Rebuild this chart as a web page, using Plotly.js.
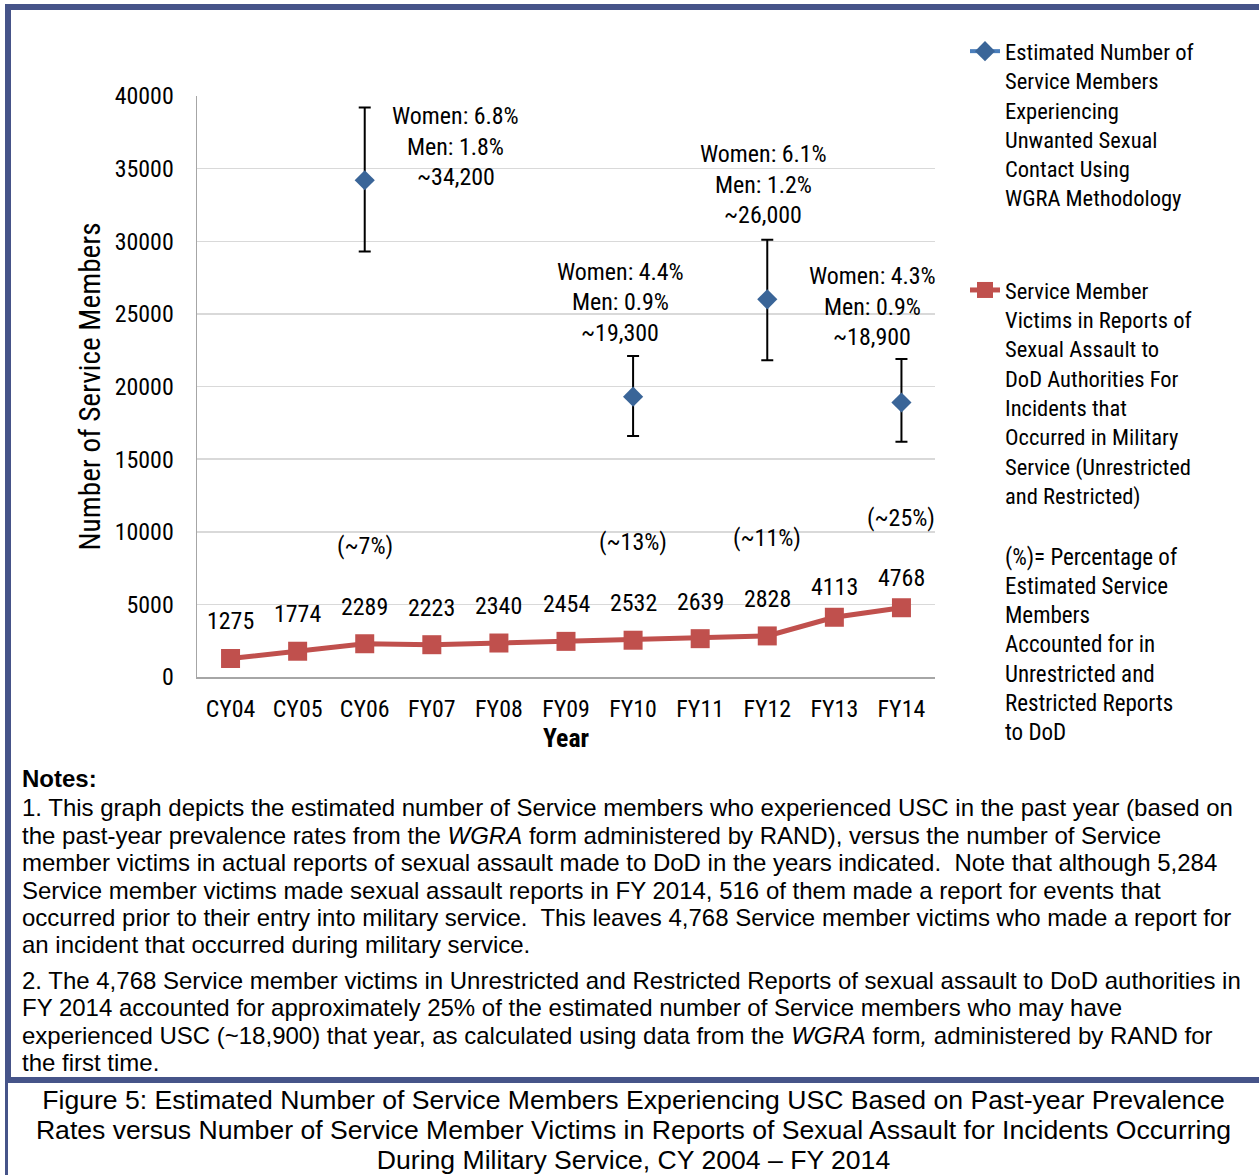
<!DOCTYPE html>
<html>
<head>
<meta charset="utf-8">
<script src="https://cdn.plot.ly/plotly-3.0.1.min.js"></script>
<style>
  html, body { margin:0; padding:0; background:#fff; }
  body { width:1259px; height:1175px; overflow:hidden; position:relative; font-family:"Liberation Sans", Arial, sans-serif; color:#000; }
  #frameTop { position:absolute; left:5px; top:4px; width:1254px; height:6px; background:#465489; }
  #frameLeft { position:absolute; left:5px; top:4px; width:6px; height:1079px; background:#465489; }
  #frameLeft2 { position:absolute; left:5px; top:1083px; width:3px; height:92px; background:#465489; }
  #sep { position:absolute; left:5px; top:1077px; width:1254px; height:6px; background:#465489; }
  #chart { position:absolute; left:0; top:0; width:1259px; height:760px; }
  #notes { position:absolute; left:22px; top:765px; width:1235px; font-size:24px; line-height:27.4px; white-space:nowrap; }
  #notes p { margin:0; }
  #notes p.p1 { margin-top:2px; }
  #notes p.p2 { margin-top:8.2px; }
  #caption { position:absolute; left:8px; top:1085px; width:1251px; text-align:center; font-size:26.6px; line-height:30px; white-space:nowrap; }
</style>
</head>
<body>
<div id="frameTop"></div>
<div id="frameLeft"></div>
<div id="frameLeft2"></div>
<div id="sep"></div>
<div id="chart"></div>
<div id="notes">
  <p><b>Notes:</b></p>
  <p class="p1">1. This graph depicts the estimated number of Service members who experienced USC in the past year (based on<br>
  the past-year prevalence rates from the <i>WGRA</i> form administered by RAND), versus the number of Service<br>
  member victims in actual reports of sexual assault made to DoD in the years indicated.&nbsp; Note that although 5,284<br>
  Service member victims made sexual assault reports in FY 2014, 516 of them made a report for events that<br>
  occurred prior to their entry into military service.&nbsp; This leaves 4,768 Service member victims who made a report for<br>
  an incident that occurred during military service.</p>
  <p class="p2">2. The 4,768 Service member victims in Unrestricted and Restricted Reports of sexual assault to DoD authorities in<br>
  FY 2014 accounted for approximately 25% of the estimated number of Service members who may have<br>
  experienced USC (~18,900) that year, as calculated using data from the <i>WGRA</i> form<i>,</i> administered by RAND for<br>
  the first time.</p>
</div>
<div id="caption">Figure 5: Estimated Number of Service Members Experiencing USC Based on Past-year Prevalence<br>Rates versus Number of Service Member Victims in Reports of Sexual Assault for Incidents Occurring<br>During Military Service, CY 2004 – FY 2014</div>

<script>
// ---------------- DATA ----------------
const categories = ['CY04','CY05','CY06','FY07','FY08','FY09','FY10','FY11','FY12','FY13','FY14'];
const reportedVictims = [1275, 1774, 2289, 2223, 2340, 2454, 2532, 2639, 2828, 4113, 4768];
const estimatedUSC = [null, null, 34200, null, null, null, 19300, null, 26000, null, 18900];
const estimatedErrPlus = [null, null, 5000, null, null, null, 2800, null, 4100, null, 3000];
const estimatedErrMinus = [null, null, 4900, null, null, null, 2700, null, 4200, null, 2700];
const womenRate = [null, null, '6.8%', null, null, null, '4.4%', null, '6.1%', null, '4.3%'];
const menRate = [null, null, '1.8%', null, null, null, '0.9%', null, '1.2%', null, '0.9%'];
const pctAccounted = [null, null, '~7%', null, null, null, '~13%', null, '~11%', null, '~25%'];
const seriesNames = [
  'Estimated Number of<br>Service Members<br>Experiencing<br>Unwanted Sexual<br>Contact Using<br>WGRA Methodology',
  'Service Member<br>Victims in Reports of<br>Sexual Assault to<br>DoD Authorities For<br>Incidents that<br>Occurred in Military<br>Service (Unrestricted<br>and Restricted)'
];
const noteLines = ['(%)= Percentage of','Estimated Service','Members','Accounted for in','Unrestricted and','Restricted Reports','to DoD'];

// ---------------- FONT ----------------
const NARROW = '"Roboto Condensed", "PT Sans Narrow", "DejaVu Sans Condensed", sans-serif';
const cv = document.createElement('canvas').getContext('2d');
cv.font = '100px ' + NARROW;
// calibrate widths to an Arial-Narrow-like metric
const F = 7.70 / (cv.measureText('Estimated Number of').width / 100);
const sz = v => +(v * F).toFixed(2);

// ---------------- STYLE ----------------
const BLUE_LINE = '#4A7EBB';
const BLUE_MARK = '#3A6598';
const RED = '#C0504D';
const blueLabelDX = {CY06: 91, FY10: -13, FY12: -4, FY14: -29};
const blueLabelTopDY = {CY06: 64, FY10: 125, FY12: 145, FY14: 126};
const LINE_H = 30.5;

const traces = [
  {
    type: 'scatter', mode: 'lines+markers', name: seriesNames[0],
    x: categories, y: estimatedUSC, connectgaps: false,
    line: {color: BLUE_LINE, width: 4},
    marker: {symbol: 'diamond', size: 15.5, color: BLUE_MARK},
    error_y: {type: 'data', symmetric: false, array: estimatedErrPlus, arrayminus: estimatedErrMinus,
              color: '#000', thickness: 2, width: 6},
    legendgroup: 'a', hoverinfo: 'x+y'
  },
  {
    type: 'scatter', mode: 'lines+markers', name: seriesNames[1],
    x: categories, y: reportedVictims,
    line: {color: RED, width: 5},
    marker: {symbol: 'square', size: 19, color: RED},
    legendgroup: 'b', hoverinfo: 'x+y'
  }
];

const annotations = [];
categories.forEach((c, i) => {
  annotations.push({x: c, y: reportedVictims[i], xref: 'x', yref: 'y', text: String(reportedVictims[i]),
    showarrow: false, yshift: i >= 9 ? 30 : 37, font: {family: NARROW, size: sz(26), color: '#000'}});
  if (pctAccounted[i]) {
    annotations.push({x: c, y: reportedVictims[i], xref: 'x', yref: 'y', text: '(' + pctAccounted[i] + ')',
      showarrow: false, yshift: i === 10 ? 90 : 98, font: {family: NARROW, size: sz(26), color: '#000'}});
  }
  if (estimatedUSC[i] !== null) {
    const lines = ['Women: ' + womenRate[i], 'Men: ' + menRate[i], '~' + estimatedUSC[i].toLocaleString('en-US')];
    lines.forEach((t, k) => {
      annotations.push({x: c, y: estimatedUSC[i], xref: 'x', yref: 'y', text: t, showarrow: false,
        xanchor: 'center', yanchor: 'middle',
        xshift: blueLabelDX[c], yshift: blueLabelTopDY[c] - k * LINE_H,
        font: {family: NARROW, size: sz(26), color: '#000'}});
    });
  }
});
noteLines.forEach((t, k) => {
  annotations.push({xref: 'paper', yref: 'paper', x: (1003 - 197) / 738, y: 1 - (557 + k * 29.3 - 96) / 581,
    text: t, showarrow: false, xanchor: 'left', yanchor: 'middle', align: 'left',
    font: {family: NARROW, size: sz(25), color: '#000'}});
});

const layout = {
  width: 1259, height: 760,
  margin: {l: 197, r: 324, t: 96, b: 83},
  paper_bgcolor: 'rgba(0,0,0,0)', plot_bgcolor: '#ffffff',
  font: {family: NARROW, size: sz(26), color: '#000'},
  showlegend: true,
  legend: {x: (965 - 197) / 738, xanchor: 'left', y: 1 + (96 - 30) / 581, yanchor: 'top',
           font: {family: NARROW, size: sz(24.5), color: '#000'}, valign: 'top', maxheight: 1000,
           traceorder: 'grouped', tracegroupgap: 60, itemwidth: 30, bgcolor: 'rgba(0,0,0,0)'},
  xaxis: {type: 'category', range: [-0.5, 10.5], showgrid: false, showline: true, linecolor: '#A6A6A6', linewidth: 1.5,
          ticks: '', tickfont: {family: NARROW, size: sz(26)}, ticklabelstandoff: 10,
          title: {text: '<b>Year</b>', font: {family: NARROW, size: sz(28)}, standoff: 5}, automargin: false,
          fixedrange: true},
  yaxis: {range: [0, 40000], dtick: 5000, tick0: 0, tickformat: 'd', showgrid: true, gridcolor: '#D9D9D9', gridwidth: 1.5,
          showline: true, linecolor: '#A6A6A6', linewidth: 1.5, zeroline: false, ticks: '',
          tickfont: {family: NARROW, size: sz(26)}, ticklabelstandoff: 17,
          title: {text: 'Number of Service Members', font: {family: NARROW, size: sz(31.8)}, standoff: 5},
          automargin: true, fixedrange: true},
  annotations: annotations
};

Plotly.newPlot('chart', traces, layout, {displayModeBar: false, staticPlot: true});
</script>
</body>
</html>
